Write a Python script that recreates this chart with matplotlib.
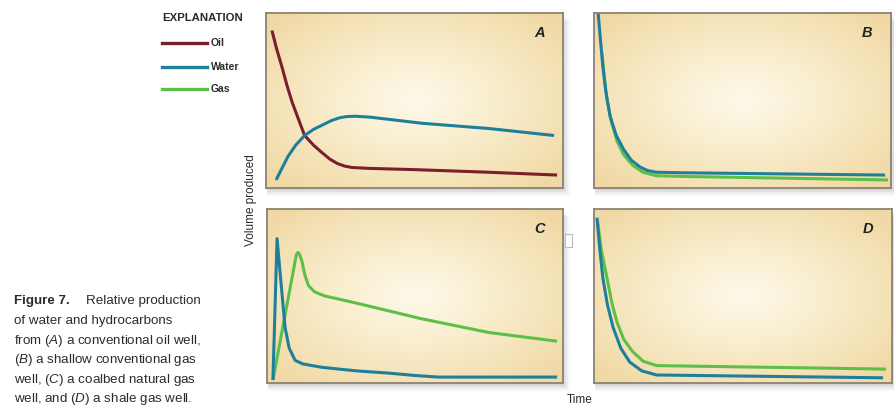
import numpy as np
import matplotlib
matplotlib.use("Agg")
from matplotlib import pyplot as plt
from matplotlib.patches import Rectangle
from matplotlib.colors import LinearSegmentedColormap

plt.rcParams['font.family'] = ['Liberation Sans', 'DejaVu Sans']
plt.rcParams['mathtext.fontset'] = 'custom'
plt.rcParams['mathtext.it'] = 'Liberation Sans:italic'
plt.rcParams['mathtext.rm'] = 'Liberation Sans'
plt.rcParams['mathtext.bf'] = 'Liberation Sans:bold'

# data (time and volume both as fraction of panel)
# panel A - conventional oil well
oilA_t = [0.02, 0.035, 0.054, 0.07, 0.088, 0.11, 0.13, 0.16, 0.19, 0.215,
          0.24, 0.265, 0.29, 0.35, 0.50, 0.75, 0.98]
oilA_v = [0.90, 0.80, 0.69, 0.59, 0.49, 0.39, 0.30, 0.245, 0.20, 0.165,
          0.14, 0.125, 0.117, 0.112, 0.105, 0.09, 0.074]
waterA_t = [0.034, 0.05, 0.074, 0.10, 0.13, 0.16, 0.19, 0.22, 0.245, 0.27,
            0.30, 0.35, 0.525, 0.75, 0.97]
waterA_v = [0.046, 0.10, 0.18, 0.245, 0.30, 0.335, 0.36, 0.385, 0.40, 0.408,
            0.41, 0.405, 0.37, 0.34, 0.30]

# panel B - shallow conventional gas well
waterB_t = [0.014, 0.02, 0.03, 0.04, 0.054, 0.075, 0.10, 0.125, 0.155, 0.18,
            0.21, 0.30, 0.98]
waterB_v = [1.0, 0.88, 0.69, 0.55, 0.41, 0.30, 0.22, 0.16, 0.12, 0.10,
            0.09, 0.087, 0.074]
gasB_t = [0.027, 0.035, 0.044, 0.06, 0.077, 0.10, 0.13, 0.165, 0.21, 0.30, 0.99]
gasB_v = [0.77, 0.63, 0.50, 0.37, 0.27, 0.19, 0.13, 0.09, 0.07, 0.066, 0.046]

# panel C - coalbed natural gas well
waterC_t = [0.02, 0.034, 0.045, 0.061, 0.075, 0.095, 0.12, 0.186, 0.30,
            0.41, 0.50, 0.58, 0.98]
waterC_v = [0.017, 0.83, 0.62, 0.32, 0.20, 0.13, 0.11, 0.09, 0.07,
            0.057, 0.043, 0.034, 0.034]
gasC_t = [0.02, 0.095, 0.100, 0.105, 0.11, 0.118, 0.128, 0.14, 0.16, 0.18,
          0.196, 0.30, 0.52, 0.75, 0.98]
gasC_v = [0.017, 0.70, 0.74, 0.75, 0.74, 0.70, 0.62, 0.56, 0.525, 0.51,
          0.50, 0.46, 0.37, 0.29, 0.24]

# panel D - shale gas well
waterD_t = [0.01, 0.02, 0.03, 0.045, 0.064, 0.09, 0.12, 0.16, 0.21, 0.40, 0.97]
waterD_v = [0.95, 0.76, 0.60, 0.45, 0.32, 0.20, 0.12, 0.07, 0.046, 0.042, 0.03]
gasD_t = [0.012, 0.025, 0.044, 0.06, 0.077, 0.10, 0.13, 0.165, 0.21, 0.40, 0.98]
gasD_v = [0.93, 0.76, 0.60, 0.46, 0.35, 0.25, 0.18, 0.125, 0.10, 0.095, 0.08]

panel_letters = ['A', 'B', 'C', 'D']
legend_names = ['Oil', 'Water', 'Gas']

OIL = '#7b1e2e'
WATER = '#1f7f9b'
GAS = '#5cc048'
TXT = '#2b2b2b'

W, H = 894, 408
fig = plt.figure(figsize=(W / 100, H / 100), dpi=100)
fig.patch.set_facecolor('white')

bg = LinearSegmentedColormap.from_list('bg', ['#fdf9ea', '#f8ebc8', '#f1d9a6'])
yy, xx = np.mgrid[-1:1:200j, -1:1:200j]
rr = np.clip(np.sqrt(xx ** 2 + yy ** 2) / 1.3, 0, 1)


def px_axes(x0, y0, x1, y1):
    # pixel box (top-left origin) -> axes
    return fig.add_axes([x0 / W, 1 - y1 / H, (x1 - x0) / W, (y1 - y0) / H])


def shadow(x0, y0, x1, y1):
    for i, a in enumerate([0.06, 0.05, 0.04, 0.03]):
        d = 2 + i * 2
        fig.patches.append(Rectangle(((x0 + 1) / W, 1 - (y1 + d) / H),
                                     (x1 - x0 + d - 2) / W, (y1 - y0) / H,
                                     transform=fig.transFigure, color='black',
                                     alpha=a, lw=0, zorder=-5))


boxes = [(266, 13, 563, 188), (594, 13, 891, 188),
         (267, 209, 563, 383), (594, 209, 892, 383)]
series = [
    [(oilA_t, oilA_v, OIL), (waterA_t, waterA_v, WATER)],
    [(gasB_t, gasB_v, GAS), (waterB_t, waterB_v, WATER)],
    [(gasC_t, gasC_v, GAS), (waterC_t, waterC_v, WATER)],
    [(gasD_t, gasD_v, GAS), (waterD_t, waterD_v, WATER)],
]

for box, lines, letter in zip(boxes, series, panel_letters):
    shadow(*box)
    ax = px_axes(*box)
    ax.imshow(rr, cmap=bg, extent=[0, 1, 0, 1], aspect='auto', zorder=0,
              vmin=0, vmax=1)
    for t, v, c in lines:
        ax.plot(t, v, color=c, lw=2.2, solid_capstyle='butt',
                solid_joinstyle='round', zorder=2)
    ax.set_xlim(0, 1)
    ax.set_ylim(0, 1)
    ax.set_xticks([])
    ax.set_yticks([])
    for s in ax.spines.values():
        s.set_color('#8c8274')
        s.set_linewidth(1.3)
    ax.text(0.92, 0.86, letter, transform=ax.transAxes, fontsize=10.5,
            fontweight='bold', style='italic', color='#222222', ha='center')

# legend / explanation
fig.text(162 / W, 1 - 18 / H, 'EXPLANATION', fontsize=8.2, fontweight='bold',
         color=TXT, va='center')
for name, c, y in zip(legend_names, [OIL, WATER, GAS], [43, 67, 89]):
    fig.add_artist(plt.Line2D([162 / W, 207 / W], [1 - y / H, 1 - y / H],
                              color=c, lw=2.4))
    fig.text(211 / W, 1 - y / H, name, fontsize=7.5, fontweight='bold',
             color=TXT, va='center')

fig.text(251 / W, 1 - 200 / H, 'Volume produced', rotation=90, fontsize=8.5,
         color=TXT, ha='center', va='center')
fig.text(580 / W, 1 - 400 / H, 'Time', fontsize=8.5, color=TXT,
         ha='center', va='center')

# small artifact box beside panel C
fig.patches.append(Rectangle((565 / W, 1 - 247 / H), 7 / W, 13 / H,
                             transform=fig.transFigure, fc='white',
                             ec='#bbbbbb', lw=0.8))

fig.text(14 / W, 1 - 301 / H, 'Figure 7.', fontsize=9.6, fontweight='bold',
         color=TXT, va='center')
fig.text(86 / W, 1 - 301 / H, 'Relative production', fontsize=9.6,
         color=TXT, va='center')
caption = [
    'of water and hydrocarbons',
    r'from ($\it{A}$) a conventional oil well,',
    r'($\it{B}$) a shallow conventional gas',
    r'well, ($\it{C}$) a coalbed natural gas',
    r'well, and ($\it{D}$) a shale gas well.',
]
for i, line in enumerate(caption):
    fig.text(14 / W, 1 - (321 + i * 19.6) / H, line, fontsize=9.6,
             color=TXT, va='center')

fig.savefig('out.png', dpi=100)
